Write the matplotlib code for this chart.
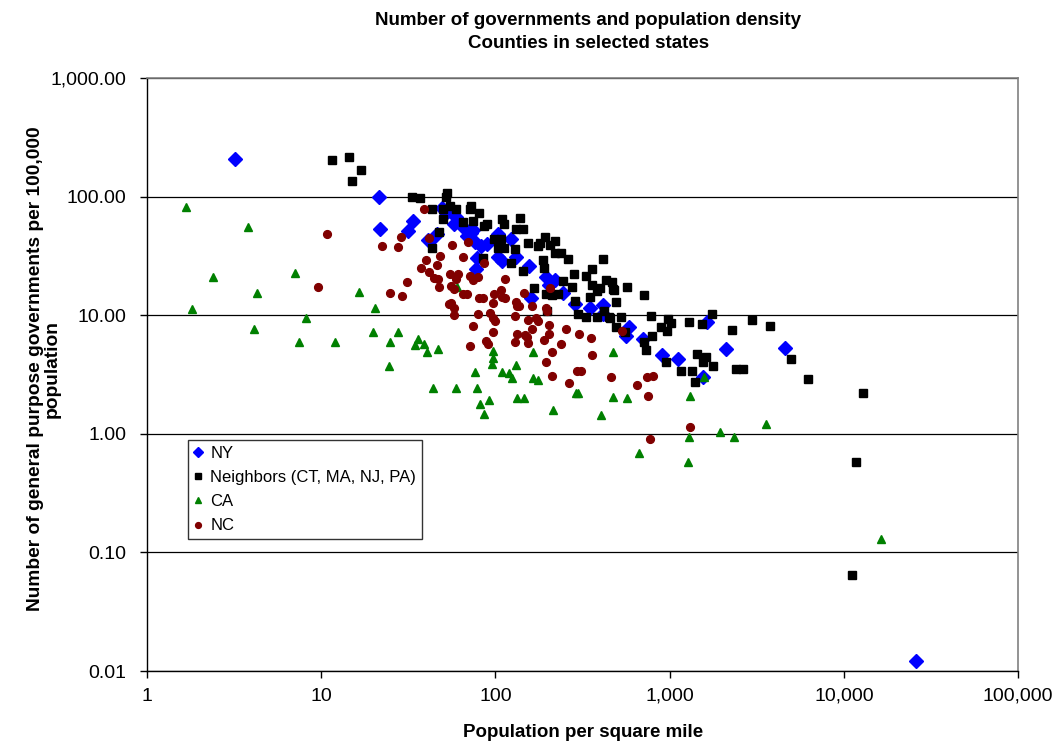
import matplotlib.pyplot as plt
from matplotlib.ticker import FixedLocator, FuncFormatter, NullLocator

plt.rcParams['font.family'] = ['Liberation Sans', 'DejaVu Sans']

# density (people per sq mile), governments per 100,000 people
ny_x = [3.2, 21.5, 21.8, 33.7, 31.6, 42.2, 46, 49.5, 52, 59.5, 58, 65, 72, 76, 78, 77,
        74, 104, 90, 123, 103, 109, 132, 156, 195, 221, 204, 245, 160, 287, 350, 415,
        415, 586, 563, 704, 905, 1110, 1630, 2100, 1550, 4600, 26000, 41, 68.6, 83]
ny_y = [207, 100, 53, 62, 51, 42.4, 48, 80, 73, 67, 59, 55, 49, 41.5, 30.5, 24.7,
        52, 48.5, 40, 44, 31, 28.7, 31, 26, 21, 20, 18, 15.5, 14, 12.5, 11.4, 12.3,
        10.2, 8, 6.7, 6.3, 4.6, 4.3, 8.7, 5.2, 3.0, 5.3, 0.0122, 43, 46.6, 38]

nb_x = [11.5, 14.5, 15.1, 16.9, 33.3, 37, 43.3, 50, 52, 52.8, 55, 59.5, 72, 71, 80,
        50, 65.5, 74, 47.6, 43, 86, 90, 109, 112, 139, 132, 144, 98, 108, 103,
        112, 130, 85, 123, 144, 154, 176, 181, 193, 207, 221, 221, 238, 261, 188,
        190, 167, 245, 283, 332, 359, 415, 432, 468, 359, 399, 276, 383, 350, 474,
        494, 287, 212, 195, 229, 198, 299, 332, 383, 450, 421, 481, 569, 714, 456,
        527, 494, 555, 783, 714, 733, 792, 893, 980, 1013, 966, 1290, 1530, 1750,
        1430, 1610, 1550, 955, 1160, 1340, 1400, 1770, 2280, 2400, 2640, 2960, 3760,
        5000, 6200, 12800, 11700, 11100]
nb_y = [204, 216, 135, 168, 99, 97, 78, 78, 99, 107, 84, 78, 84, 78, 72.6,
        65, 61, 62, 50, 37, 57, 59, 65, 59, 66, 53, 53, 44, 44, 37,
        37, 36, 30.5, 27.6, 23.7, 41, 38, 41, 46, 39, 42, 33.6, 33.6, 30, 29.3,
        25, 17, 19.5, 22.4, 21.5, 24.7, 30, 20, 19, 18.1, 17, 17.4, 16, 14.3, 16.7,
        13, 13.2, 14.9, 15.2, 15.2, 10.8, 10.2, 9.6, 9.6, 9.6, 10.8, 16.4, 17.4, 14.9, 9.4,
        9.6, 7.9, 7.2, 9.8, 6.0, 5.1, 6.7, 7.9, 9.3, 8.6, 7.4, 8.7, 8.4, 10.2,
        4.7, 4.45, 4.0, 4.0, 3.4, 3.4, 2.74, 3.7, 7.5, 3.5, 3.5, 9.1, 8.1,
        4.3, 2.9, 2.2, 0.58, 0.065]

ca_x = [1.68, 3.8, 2.4, 7.1, 4.3, 1.8, 8.2, 4.1, 7.5, 12, 16.5, 20.4, 60, 19.9, 27.6,
        24.9, 36, 34.6, 39, 40.6, 47, 24.5, 76, 44, 59, 78, 81, 97, 97, 95, 86, 92,
        109, 120, 125, 132, 164, 164, 176, 133, 146, 215, 291, 299, 405, 474, 474,
        569, 1310, 1570, 3570, 1950, 1290, 2340, 16400, 668, 1270]
ca_y = [82, 56, 21, 22.8, 15.5, 11.2, 9.5, 7.6, 6.0, 6.0, 15.8, 11.4, 17.4, 7.2, 7.2,
        6.0, 6.3, 5.6, 5.7, 4.9, 5.2, 3.7, 3.3, 2.45, 2.45, 2.45, 1.8, 5.0, 4.4, 3.9, 1.47, 1.94,
        3.3, 3.26, 2.96, 3.8, 4.9, 2.96, 2.85, 2.0, 2.0, 1.6, 2.2, 2.2, 1.45, 4.9, 2.06,
        2.0, 2.1, 3.0, 1.2, 1.04, 0.94, 0.94, 0.13, 0.69, 0.58]

nc_x = [10.8, 9.6, 39, 28.8, 22.4, 27.7, 41.6, 56.5, 70, 48, 40, 46, 37.5, 41.6, 44.4,
        47, 47.6, 55, 61, 59.5, 64.7, 31, 24.9, 29.2, 55.7, 57.7, 65.5, 69, 55.7, 54,
        57.7, 57.7, 79, 71, 74, 80, 74, 71, 86, 79, 114, 85, 98.7, 108, 109, 114,
        96.7, 132, 133, 137, 162, 146, 195, 198, 207, 93, 96.7, 100, 130, 154, 171,
        176, 204, 162, 254, 204, 303, 354, 96.7, 133, 148, 152, 130, 154, 190, 238,
        88, 91, 212, 195, 359, 294, 311, 212, 265, 462, 534, 651, 742, 803, 752,
        1310, 772]
nc_y = [48.5, 17.4, 78, 46, 38, 37.7, 45, 39, 41.5, 31.7, 29.3, 26.6, 25, 23.3, 20.7,
        20.3, 17.4, 22.4, 22.4, 20.3, 31, 19, 15.5, 14.6, 17.7, 16.7, 15.2, 15.2, 12.8, 12.5,
        11.4, 10.0, 10.2, 21.5, 19.9, 14, 8.1, 5.5, 27.6, 21, 20.3, 14, 15.2, 16.4, 14.3, 14.0,
        12.8, 13, 11.9, 11.9, 11.9, 15.5, 11.4, 10.8, 17, 10.4, 9.4, 8.9, 9.8, 9.1, 9.4,
        8.9, 8.2, 7.6, 7.6, 7.0, 6.9, 6.4, 7.2, 7.0, 6.8, 6.5, 6.0, 5.8, 6.2, 5.7,
        6.1, 5.7, 4.9, 4.05, 4.6, 3.4, 3.4, 3.1, 2.7, 3.0, 7.4, 2.6, 3.0, 3.1, 2.1,
        1.15, 0.9]

x_ticks = [1, 10, 100, 1000, 10000, 100000]
y_ticks = [0.01, 0.1, 1, 10, 100, 1000]

fig = plt.figure(figsize=(10.54, 7.44), dpi=100)
ax = fig.add_axes([0.1395, 0.0981, 0.8264, 0.797])

ax.plot(ny_x, ny_y, 'D', color='#0000FF', ms=6.8, mec='#0000FF', ls='none', label='NY')
ax.plot(nb_x, nb_y, 's', color='black', ms=5.4, ls='none', label='Neighbors (CT, MA, NJ, PA)')
ax.plot(ca_x, ca_y, '^', color='#008000', ms=5.5, ls='none', label='CA')
ax.plot(nc_x, nc_y, 'o', color='#800000', ms=5.6, ls='none', label='NC')

ax.set_xscale('log')
ax.set_yscale('log')
ax.set_xlim(1, 100000)
ax.set_ylim(0.01, 1000)

ax.xaxis.set_major_locator(FixedLocator(x_ticks))
ax.yaxis.set_major_locator(FixedLocator(y_ticks))
ax.xaxis.set_minor_locator(NullLocator())
ax.yaxis.set_minor_locator(NullLocator())
ax.xaxis.set_major_formatter(FuncFormatter(lambda v, _: f'{v:,.0f}'))
ax.yaxis.set_major_formatter(FuncFormatter(lambda v, _: f'{v:,.2f}'))
ax.tick_params(direction='out', length=5, width=1, labelsize=14, color='black')
ax.tick_params(axis='y', pad=10)
ax.tick_params(axis='x', pad=7)

ax.yaxis.grid(True, color='black', linewidth=0.9)
ax.set_axisbelow(True)
for side in ['top', 'right']:
    ax.spines[side].set_color('#808080')
    ax.spines[side].set_linewidth(1.2)
for side in ['left', 'bottom']:
    ax.spines[side].set_color('black')
    ax.spines[side].set_linewidth(1.0)

fig.text(0.558, 0.984, 'Number of governments and population density\nCounties in selected states',
         ha='center', va='top', fontsize=13.5, fontweight='bold', linespacing=1.5)
fig.text(0.553, 0.015, 'Population per square mile', ha='center', va='center',
         fontsize=13.5, fontweight='bold')
fig.text(0.058, 0.504, 'Number of general purpose governments per 100,000\npopulation',
         ha='right', va='center', rotation=90, fontsize=13.8, fontweight='bold',
         linespacing=1.0, multialignment='center')

leg = ax.legend(loc='upper left', bbox_to_anchor=(0.047, 0.3895), fontsize=12,
                frameon=True, fancybox=False, edgecolor='black', handlelength=0.5,
                handletextpad=0.5, borderpad=0.35, labelspacing=0.55, markerscale=0.75,
                borderaxespad=0)
leg.get_frame().set_linewidth(1.0)

fig.savefig('out.png', dpi=100)
